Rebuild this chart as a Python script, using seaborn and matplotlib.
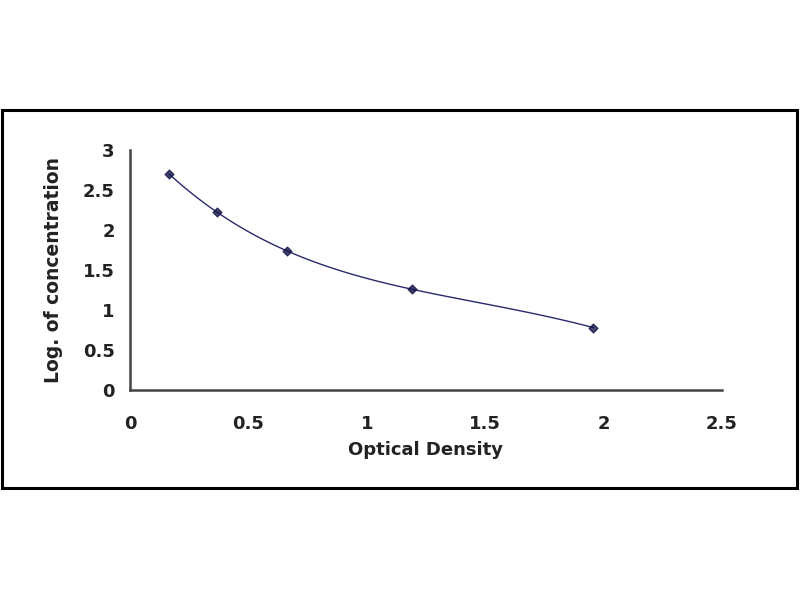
import numpy as np
import pandas as pd
import matplotlib
matplotlib.use("Agg")
import matplotlib.pyplot as plt
import seaborn as sns
from matplotlib.patches import Rectangle

# standard curve points
optical_density = [0.165, 0.369, 0.662, 1.19, 1.957]
log_concentration = [2.70, 2.22, 1.74, 1.26, 0.78]
x_ticks = [0, 0.5, 1, 1.5, 2, 2.5]
y_ticks = [0, 0.5, 1, 1.5, 2, 2.5, 3]

df = pd.DataFrame({"od": optical_density, "logc": log_concentration})

sns.set_style("white")
plt.rcParams["font.family"] = ["DejaVu Sans"]
plt.rcParams["font.weight"] = "bold"

fig = plt.figure(figsize=(8, 6), dpi=100)
ax = fig.add_axes([0.1625, 0.35, 0.74, 0.40])

# outer frame of the chart area
fig.patches.append(Rectangle((0.002, 0.187), 0.994, 0.63, transform=fig.transFigure,
                             fill=False, edgecolor="black", linewidth=2.2))

line_col = "#2a2a6e"
sns.regplot(data=df, x="od", y="logc", order=4, ci=None, ax=ax, marker="D",
            scatter_kws=dict(s=20, color="#14144a", zorder=3),
            line_kws=dict(color=line_col, linewidth=1.0))

ax.set_xlim(0, 2.5)
ax.set_ylim(0, 3)
ax.set_xticks(x_ticks)
ax.set_yticks(y_ticks)
ax.set_xticklabels([f"{t:g}" for t in x_ticks], fontsize=13, fontweight="bold", color="#222222")
ax.set_yticklabels([f"{t:g}" for t in y_ticks], fontsize=13, fontweight="bold", color="#222222")

sns.despine(ax=ax)
for s in ["left", "bottom"]:
    ax.spines[s].set_color("#444444")
    ax.spines[s].set_linewidth(1.8)
ax.tick_params(axis="both", direction="in", length=5, width=1.3, color="#444444")
ax.tick_params(axis="x", pad=18)
ax.tick_params(axis="y", pad=11)

ax.set_xlabel("Optical Density", fontsize=13, fontweight="bold", color="#222222", labelpad=6)
ax.set_ylabel("Log. of concentration", fontsize=13.5, fontweight="bold", color="#222222", labelpad=14)

fig.savefig("out.png", dpi=100)
